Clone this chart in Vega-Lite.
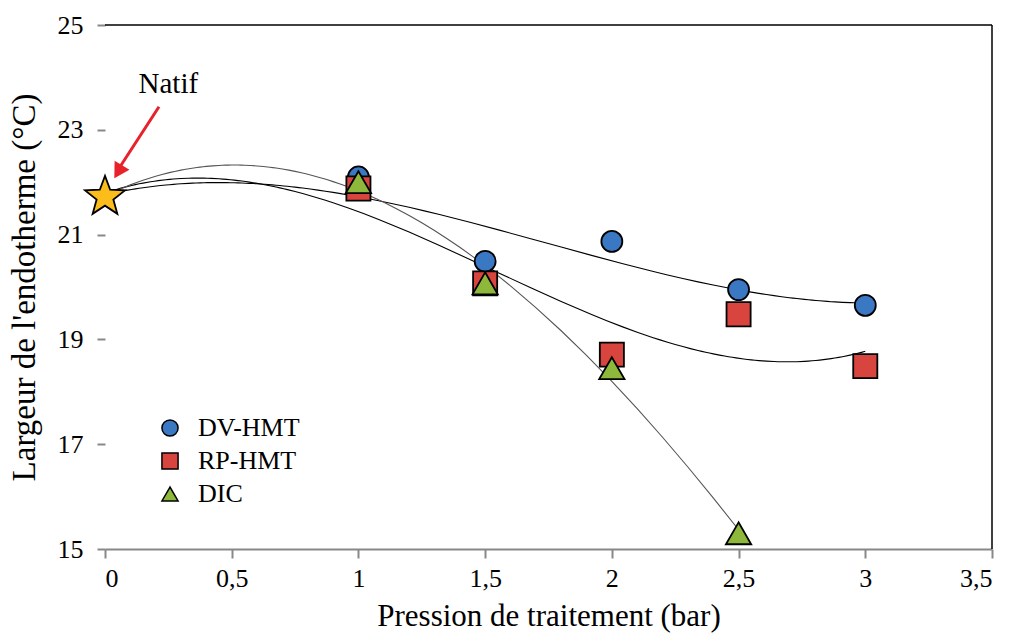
{
  "$schema": "https://vega.github.io/schema/vega-lite/v6.json",
  "autosize": "none",
  "width": 887,
  "height": 524,
  "padding": {"left": 105, "top": 25, "right": 18, "bottom": 91},
  "background": "white",
  "config": {
    "view": {"stroke": null},
    "font": "Liberation Serif",
    "axis": {"grid": false, "labelFont": "Liberation Serif", "titleFont": "Liberation Serif", "labelColor": "black", "titleColor": "black", "titleFontWeight": "normal"},
    "legend": {
      "orient": "none", "legendX": 52, "legendY": 390, "padding": 0,
      "labelFont": "Liberation Serif", "labelFontSize": 26, "labelColor": "black",
      "symbolSize": 260, "symbolStrokeColor": "black", "symbolStrokeWidth": 1.5,
      "rowPadding": 7, "labelOffset": 15
    }
  },
  "datasets": {
    "pts": [
      {"series": "DV-HMT", "x": 0, "y": 21.72},
      {"series": "DV-HMT", "x": 1, "y": 22.1},
      {"series": "DV-HMT", "x": 1.5, "y": 20.49},
      {"series": "DV-HMT", "x": 2, "y": 20.87},
      {"series": "DV-HMT", "x": 2.5, "y": 19.95},
      {"series": "DV-HMT", "x": 3, "y": 19.65},
      {"series": "RP-HMT", "x": 0, "y": 21.72},
      {"series": "RP-HMT", "x": 1, "y": 21.88},
      {"series": "RP-HMT", "x": 1.5, "y": 20.07},
      {"series": "RP-HMT", "x": 2, "y": 18.71},
      {"series": "RP-HMT", "x": 2.5, "y": 19.48},
      {"series": "RP-HMT", "x": 3, "y": 18.49},
      {"series": "DIC", "x": 0, "y": 21.72},
      {"series": "DIC", "x": 1, "y": 22.0},
      {"series": "DIC", "x": 1.5, "y": 20.07},
      {"series": "DIC", "x": 2, "y": 18.45},
      {"series": "DIC", "x": 2.5, "y": 15.3}
    ]
  },
  "encoding": {
    "x": {
      "field": "x", "type": "quantitative",
      "scale": {"domain": [0, 3.5], "nice": false, "zero": false},
      "axis": {
        "orient": "bottom",
        "values": [0, 0.5, 1, 1.5, 2, 2.5, 3, 3.5],
        "labelExpr": "replace(format(datum.value, '~g'), '.', ',')",
        "title": "Pression de traitement (bar)",
        "domainColor": "#888888", "domainWidth": 2,
        "tickColor": "#888888", "tickWidth": 2, "tickSize": 9,
        "labelFontSize": 26, "labelPadding": 7,
        "titleFontSize": 31, "titlePadding": 10
      }
    },
    "y": {
      "field": "y", "type": "quantitative",
      "scale": {"domain": [15, 25], "nice": false, "zero": false},
      "axis": {
        "orient": "left",
        "values": [15, 17, 19, 21, 23, 25],
        "title": "Largeur de l'endotherme (°C)",
        "domain": false,
        "tickColor": "#888888", "tickWidth": 2, "tickSize": 8,
        "labelFontSize": 26, "labelPadding": 14,
        "titleFontSize": 33, "titlePadding": 16
      }
    }
  },
  "layer": [
    {
      "data": {"values": [{"x": 0, "x2": 3.5, "y": 25}]},
      "mark": {"type": "rule", "color": "black", "strokeWidth": 1.5},
      "encoding": {"x2": {"field": "x2"}}
    },
    {
      "data": {"values": [{"x": 3.5, "y": 15, "y2": 25}]},
      "mark": {"type": "rule", "color": "black", "strokeWidth": 1.5},
      "encoding": {"y2": {"field": "y2"}}
    },
    {
      "data": {"name": "pts"},
      "transform": [
        {"regression": "y", "on": "x", "groupby": ["series"], "method": "poly", "order": 3}
      ],
      "mark": {"type": "line", "strokeWidth": 1.1},
      "encoding": {
        "detail": {"field": "series", "type": "nominal"},
        "stroke": {"condition": {"test": "datum.series === 'DIC'", "value": "#555555"}, "value": "black"}
      }
    },
    {
      "data": {"name": "pts"},
      "transform": [{"filter": "datum.x > 0 && datum.series === 'DV-HMT'"}],
      "mark": {"type": "point", "filled": true, "strokeWidth": 1.8, "opacity": 1, "size": 440},
      "encoding": {
        "fill": {
          "field": "series", "type": "nominal",
          "scale": {"domain": ["DV-HMT", "RP-HMT", "DIC"], "range": ["#3a78c4", "#d8453f", "#8db83c"]},
          "legend": {"title": null}
        },
        "shape": {
          "field": "series", "type": "nominal",
          "scale": {"domain": ["DV-HMT", "RP-HMT", "DIC"], "range": ["circle", "square", "triangle-up"]},
          "legend": {"title": null}
        },
        "stroke": {
          "field": "series", "type": "nominal",
          "scale": {"domain": ["DV-HMT", "RP-HMT", "DIC"], "range": ["black", "black", "black"]},
          "legend": {"title": null}
        }
      }
    },
    {
      "data": {"name": "pts"},
      "transform": [{"filter": "datum.x > 0 && datum.series === 'RP-HMT'"}],
      "mark": {"type": "point", "filled": true, "strokeWidth": 1.8, "opacity": 1, "size": 580},
      "encoding": {
        "fill": {"field": "series", "type": "nominal"},
        "shape": {"field": "series", "type": "nominal"},
        "stroke": {"field": "series", "type": "nominal"}
      }
    },
    {
      "data": {"name": "pts"},
      "transform": [{"filter": "datum.x > 0 && datum.series === 'DIC'"}],
      "mark": {"type": "point", "filled": true, "strokeWidth": 1.8, "opacity": 1, "size": 640},
      "encoding": {
        "fill": {"field": "series", "type": "nominal"},
        "shape": {"field": "series", "type": "nominal"},
        "stroke": {"field": "series", "type": "nominal"}
      }
    },
    {
      "data": {"values": [{"x": 0, "y": 21.72}]},
      "mark": {"type": "point", "shape": "M0,-1L0.247,-0.34L0.951,-0.309L0.399,0.13L0.588,0.809L0,0.42L-0.588,0.809L-0.399,0.13L-0.951,-0.309L-0.247,-0.34Z", "filled": true, "fill": "#fbbd1b", "stroke": "black", "strokeWidth": 1.8, "size": 1764, "opacity": 1}
    },
    {
      "data": {"values": [{"x": 0.213, "y": 23.44, "x2": 0.06, "y2": 22.3}]},
      "mark": {"type": "rule", "color": "#e8212b", "strokeWidth": 3},
      "encoding": {
        "x2": {"field": "x2"},
        "y2": {"field": "y2"}
      }
    },
    {
      "data": {"values": [{"x": 0.052, "y": 22.2}]},
      "mark": {"type": "point", "shape": "triangle-up", "filled": true, "fill": "#e8212b", "size": 300, "angle": 211, "opacity": 1}
    },
    {
      "data": {"values": [{"x": 0.25, "y": 23.7, "t": "Natif"}]},
      "mark": {"type": "text", "font": "Liberation Serif", "fontSize": 29, "color": "black", "align": "center", "baseline": "alphabetic"},
      "encoding": {
        "text": {"field": "t"}
      }
    }
  ]
}
